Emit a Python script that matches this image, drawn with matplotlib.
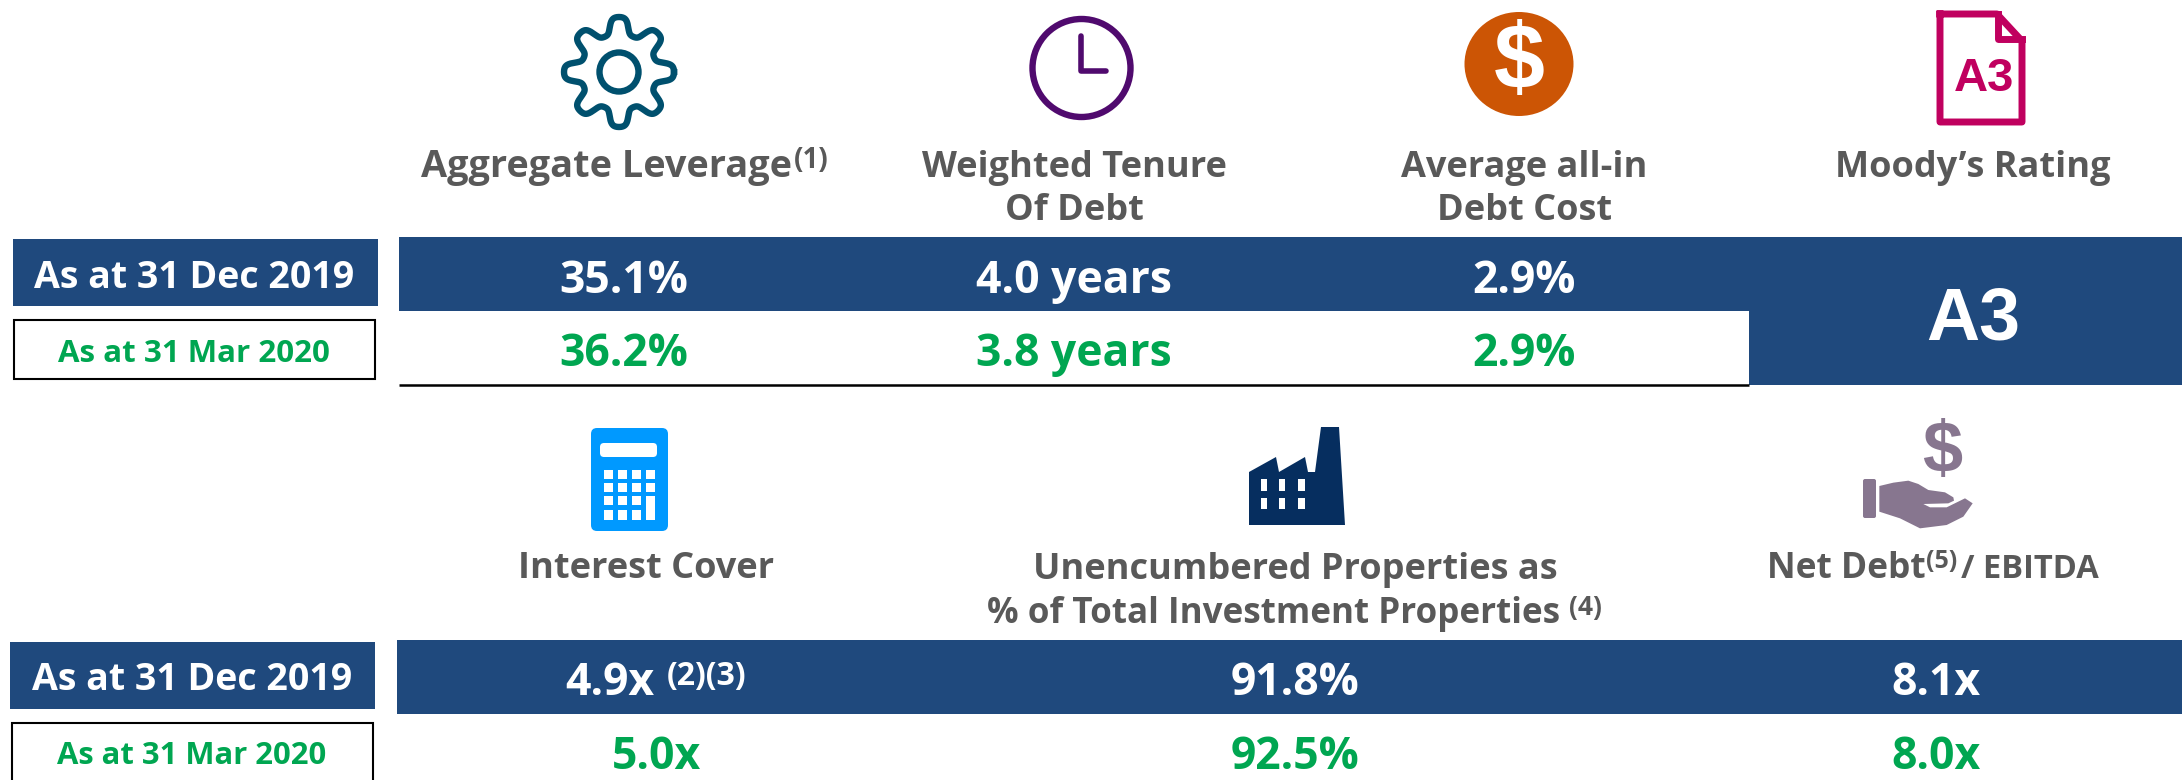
import numpy as np
import matplotlib
matplotlib.use("Agg")
import matplotlib.pyplot as plt
from matplotlib.patches import Rectangle, Circle, FancyBboxPatch, Polygon, Ellipse

# ---- chart content ----
period_labels = ["As at 31 Dec 2019", "As at 31 Mar 2020"]
top_metrics = ["Aggregate Leverage", "Weighted Tenure\nOf Debt", "Average all-in\nDebt Cost", "Moody\u2019s Rating"]
top_dec_2019 = ["35.1%", "4.0 years", "2.9%"]
top_mar_2020 = ["36.2%", "3.8 years", "2.9%"]
rating = "A3"
bottom_metrics = ["Interest Cover", "Unencumbered Properties as\n% of Total Investment Properties", "Net Debt"]
bottom_dec_2019 = ["4.9x", "91.8%", "8.1x"]
bottom_mar_2020 = ["5.0x", "92.5%", "8.0x"]

NAVY = "#1F497D"
GREEN = "#00A651"
GREY = "#595959"
FONT = "Open Sans"
ARIAL = "Liberation Sans"

fig = plt.figure(figsize=(21.82, 7.80), dpi=100, facecolor="white")
ax = fig.add_axes([0, 0, 1, 1])
ax.set_xlim(0, 2182)
ax.set_ylim(780, 0)
ax.axis("off")


def T(x, y, s, size, color, ha="center", va="center_baseline", weight="bold", family=FONT):
    return ax.text(x, y, s, fontsize=size, color=color, ha=ha, va=va, family=family, weight=weight)


def R(x0, y0, x1, y1, fc, ec="none", lw=0, z=1):
    ax.add_patch(Rectangle((x0, y0), x1 - x0, y1 - y0, fc=fc, ec=ec, lw=lw, zorder=z))


# ---- bands ----
R(399, 237, 2182, 311, NAVY)
R(1749, 311, 2182, 385, NAVY)
ax.plot([399, 1749], [384.5, 384.5], color="black", lw=1.8, solid_capstyle="butt")
R(397, 640, 2182, 714, NAVY)

# ---- period labels ----
R(13, 239, 378, 306, NAVY)
R(13.5, 320, 375, 379, "white", "black", 1.5)
R(10, 642, 375, 709, NAVY)
R(11.5, 723, 373, 790, "white", "black", 1.5)
T(194.5, 273, period_labels[0], 27, "white")
T(194, 350, period_labels[1], 22.5, GREEN)
T(192, 676, period_labels[0], 27, "white")
T(192, 753, period_labels[1], 22.3, GREEN)

# ---- top headers ----
HS = 26
T(606.5, 163, top_metrics[0], 27.3, GREY)
T(794, 157, "(1)", 20, GREY, ha="left")
for cx, lab in zip([1074.5, 1524.5], top_metrics[1:3]):
    a, b = lab.split("\n")
    T(cx, 163, a, HS, GREY)
    T(cx, 207, b, HS, GREY)
T(1973, 163, top_metrics[3], HS, GREY)

# ---- top values ----
VS = 32
for cx, d, m in zip([624, 1073.5, 1524.5], top_dec_2019, top_mar_2020):
    T(cx, 276, d, VS, "white")
    T(cx, 349, m, VS, GREEN)
T(1973, 313, rating, 53, "white", family=ARIAL)

# ---- bottom headers ----
T(646, 565, bottom_metrics[0], HS, GREY)
a, b = bottom_metrics[1].split("\n")
T(1295, 565, a, HS, GREY)
T(1273.5, 610, b, 25.2, GREY)
T(1569, 604, "(4)", 19, GREY, ha="left")
T(1767, 565, bottom_metrics[2], 25.5, GREY, ha="left")
T(1926, 558, "(5)", 18, GREY, ha="left")
T(1961, 565, "/ EBITDA", 23.5, GREY, ha="left")

# ---- bottom values ----
xs = [610, 1295, 1936]
xs_m = [657, 1295, 1936]
for cx, cm, d, m in zip(xs, xs_m, bottom_dec_2019, bottom_mar_2020):
    T(cx, 678, d, VS, "white")
    T(cm, 752, m, VS, GREEN)
T(667, 672, "(2)(3)", 23, "white", ha="left")

# ---- gear icon ----
th = np.linspace(0, 2 * np.pi, 721)
r = 46.5 + 8.5 * np.tanh(1.6 * np.cos(8 * (th - np.pi / 2))) / np.tanh(1.6)
ax.plot(619 + r * np.cos(th), 72 - r * np.sin(th), color="#00506E", lw=4.6)
ax.add_patch(Circle((619, 72), 19.5, fc="none", ec="#00506E", lw=4.6))

# ---- clock icon ----
CL = "#500A6E"
ax.add_patch(Circle((1081.5, 68), 49, fc="none", ec=CL, lw=4.6))
ax.plot([1081, 1081, 1106], [36, 71, 71], color=CL, lw=4, solid_capstyle="round",
        solid_joinstyle="round")

# ---- dollar icon ----
ax.add_patch(Ellipse((1519, 64), 109, 104, fc="#CC5505", ec="none"))
T(1519, 64, "$", 66, "white", va="center", family=ARIAL)

# ---- rating document icon ----
DC = "#C0005F"
ax.plot([1940, 1997, 2022, 2022, 1940, 1940], [14, 14, 41, 122, 122, 14], color=DC, lw=5,
        solid_joinstyle="round")
ax.plot([1998, 1998, 2022], [14, 39, 39], color=DC, lw=5, solid_joinstyle="round")
T(1984, 74, "A3", 34, DC, family=ARIAL)

# ---- calculator icon ----
BL = "#0099FF"
ax.add_patch(FancyBboxPatch((597, 434), 65, 91, boxstyle="round,pad=6", fc=BL, ec="none"))
ax.add_patch(FancyBboxPatch((604, 447), 49, 6, boxstyle="round,pad=4", fc="white", ec="none"))
cols = [(604, 613), (618, 627), (631.5, 641), (646, 655)]
rows = [(470, 479), (483, 492), (496, 505), (510, 520)]
for j, (y0, y1) in enumerate(rows):
    for i, (x0, x1) in enumerate(cols):
        if i == 3 and j == 3:
            continue
        R(x0, y0, x1, 520 if (i == 3 and j == 2) else y1, "white", z=3)

# ---- factory icon ----
FC = "#062E5F"
ax.add_patch(Polygon([(1249, 525), (1249, 472), (1276, 457), (1279, 472), (1305, 457), (1308, 472),
                      (1315, 472), (1321, 427), (1339, 427), (1345, 525)], closed=True, fc=FC, ec="none"))
for x0, x1 in [(1261, 1267), (1279, 1285), (1298, 1305)]:
    for y0, y1 in [(479, 491), (498, 509)]:
        R(x0, y0, x1, y1, "white", z=3)

# ---- hand icon ----
HC = "#87768F"
T(1942, 453, "$", 52, HC, va="center", family=ARIAL)
ax.add_patch(FancyBboxPatch((1865, 481), 9, 35, boxstyle="round,pad=2", fc=HC, ec="none"))
hand_z = np.array([(88, 228), (130, 218), (175, 212), (205, 222), (235, 240), (285, 247), (310, 262),
                   (312, 272), (295, 280), (220, 282), (240, 292), (290, 292), (345, 265), (368, 280),
                   (340, 320), (290, 345), (210, 355), (150, 325), (88, 305)], float)
ax.add_patch(Polygon(np.c_[1850 + hand_z[:, 0] / 3, 410 + hand_z[:, 1] / 3], closed=True, fc=HC, ec="none"))

fig.savefig("out.png", dpi=100, facecolor="white")
